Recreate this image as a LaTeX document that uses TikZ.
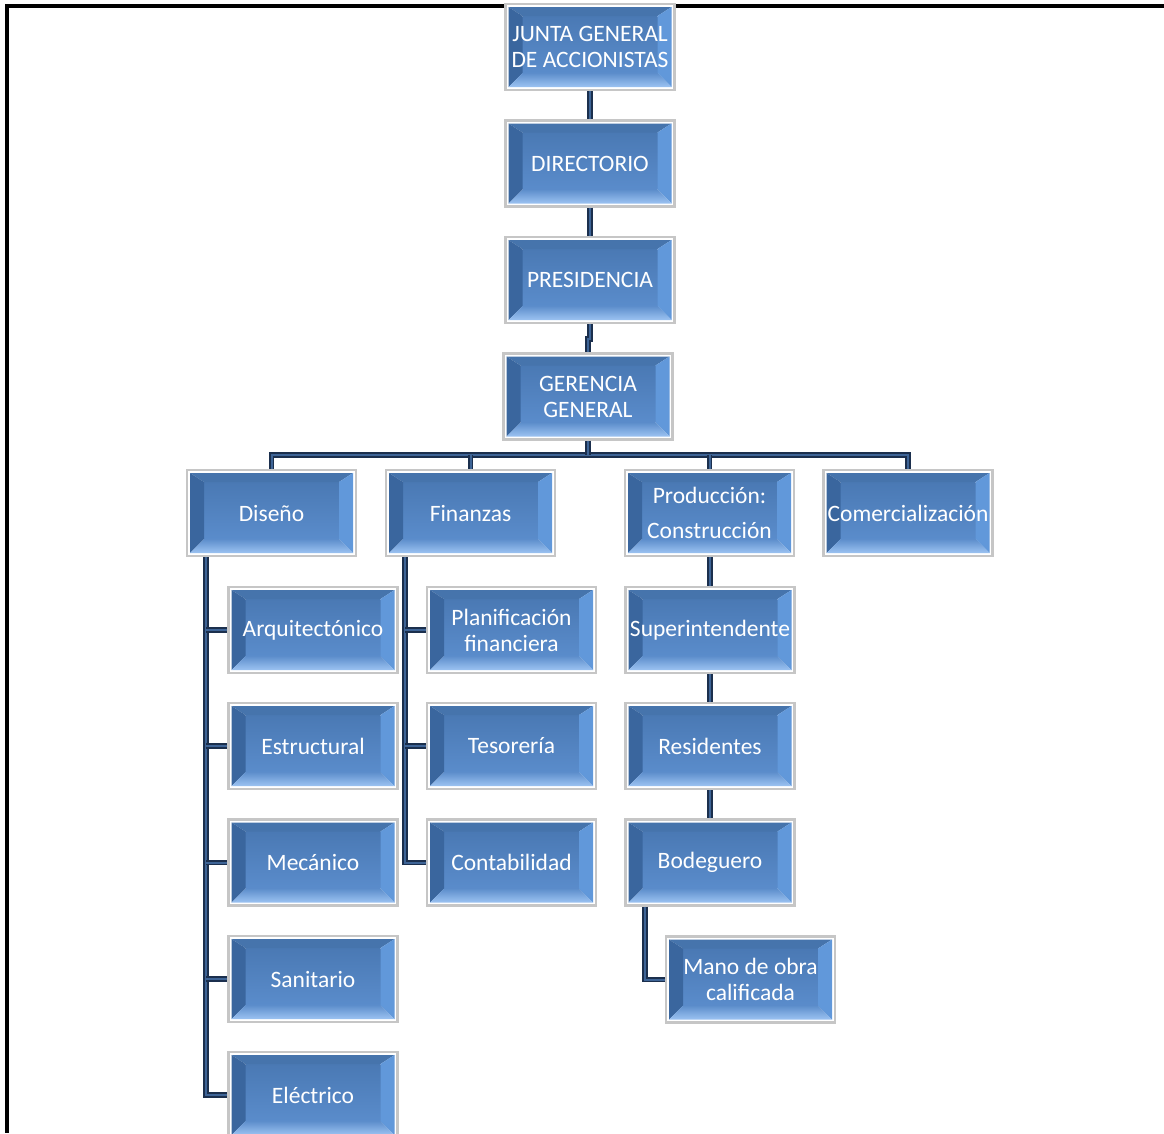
\documentclass[tikz,border=0pt]{standalone}
\usepackage{fontspec}
\setmainfont{Carlito}
\definecolor{bface1}{HTML}{4A79B4}
\definecolor{bface2}{HTML}{5A8CCB}
\definecolor{btop}{HTML}{4674AC}
\definecolor{bleft}{HTML}{3A669E}
\definecolor{bright}{HTML}{6198DA}
\definecolor{bbot1}{HTML}{5C8DCB}
\definecolor{bbot2}{HTML}{9CC3F2}
\definecolor{bframe}{HTML}{C6C6C6}
\definecolor{connout}{HTML}{1B2F4D}
\definecolor{connin}{HTML}{3E6496}
\tikzset{
  bev/.style={draw=bframe, line width=2.2pt, minimum width=169pt, minimum height=86pt,
    inner sep=0pt, text=white, align=center,
    font=\fontsize{23.5}{26}\selectfont,
    path picture={
      \fill[white] (path picture bounding box.south west) rectangle (path picture bounding box.north east);
      \coordinate (ppA) at ([shift={(3pt,-3pt)}]path picture bounding box.north west);
      \coordinate (ppB) at ([shift={(-3pt,-3pt)}]path picture bounding box.north east);
      \coordinate (ppC) at ([shift={(-3pt,3pt)}]path picture bounding box.south east);
      \coordinate (ppD) at ([shift={(3pt,3pt)}]path picture bounding box.south west);
      \coordinate (ppa) at ([shift={(14pt,-9pt)}]ppA);
      \coordinate (ppb) at ([shift={(-14pt,-9pt)}]ppB);
      \coordinate (ppc) at ([shift={(-14pt,14pt)}]ppC);
      \coordinate (ppd) at ([shift={(14pt,14pt)}]ppD);
      \shade[top color=bface1, bottom color=bface2] (ppa) rectangle (ppc);
      \fill[btop] (ppA) -- (ppB) -- (ppb) -- (ppa) -- cycle;
      \fill[bleft] (ppA) -- (ppa) -- (ppd) -- (ppD) -- cycle;
      \fill[bright] (ppB) -- (ppb) -- (ppc) -- (ppC) -- cycle;
      \shade[top color=bbot1, bottom color=bbot2] (ppD) -- (ppd) -- (ppc) -- (ppC) -- cycle;
      \draw[gray!60!black, line width=1.5pt] (path picture bounding box.north east) -- (path picture bounding box.south east);
    }},
  conn/.style={draw=connout, line width=1.8pt, double=connin, double distance=2pt},
  framel/.style={draw=black, line width=3.2pt}
}
\begin{document}
\begin{tikzpicture}[x=1pt,y=-1pt]
\useasboundingbox (0,0) rectangle (1164,1133);
% frame
\coordinate (ftr) at (1164,6);
\coordinate (ftl) at (7,6);
\coordinate (fbl) at (7,1133);
\draw[framel] (ftr) -- (ftl) -- (fbl);
\coordinate (bus) at (588,455);
\coordinate (dspine) at (206,556);
\coordinate (fspine) at (405,556);
\coordinate (bspine) at (645,905);
% nodes
\node[bev] (junta) at (590,47) {JUNTA GENERAL\\DE ACCIONISTAS};
\node[bev] (dir) at (590,163.5) {DIRECTORIO};
\node[bev] (pre) at (590,280) {PRESIDENCIA};
\node[bev] (ger) at (588,396.5) {GERENCIA\\GENERAL};
\node[bev] (dis) at (271.5,513) {Diseño};
\node[bev] (fin) at (470.5,513) {Finanzas};
\node[bev] (pro) at (709.5,513) {Producción:\\[9pt]Construcción};
\node[bev] (com) at (908,513) {Comercialización};
\node[bev] (arq) at (313,630) {Arquitectónico};
\node[bev] (est) at (313,746) {Estructural};
\node[bev] (mec) at (313,862.5) {Mecánico};
\node[bev] (san) at (313,979) {Sanitario};
\node[bev] (ele) at (313,1095) {Eléctrico};
\node[bev] (pla) at (511.5,630) {Planificación\\financiera};
\node[bev] (tes) at (511.5,746) {Tesorería};
\node[bev] (con) at (511.5,862.5) {Contabilidad};
\node[bev] (sup) at (710,630) {Superintendente};
\node[bev] (res) at (710,746) {Residentes};
\node[bev] (bod) at (710,862.5) {Bodeguero};
\node[bev] (man) at (750.5,979.5) {Mano de obra\\calificada};
% connectors
\draw[conn] (junta.south) -- (dir.north);
\draw[conn] (dir.south) -- (pre.north);
\draw[conn] (pre.south) -- ++(0,15) -| (ger.north);
\draw[conn] (dis.north) -- (dis.north |- bus) -- (com.north |- bus) -- (com.north);
\draw[conn] (ger.south) -- (ger.south |- bus);
\draw[conn] (fin.north) -- (fin.north |- bus);
\draw[conn] (pro.north) -- (pro.north |- bus);
\draw[conn] (dis.south -| dspine) -- (ele.west -| dspine) -- (ele.west);
\draw[conn] (arq.west -| dspine) -- (arq.west);
\draw[conn] (est.west -| dspine) -- (est.west);
\draw[conn] (mec.west -| dspine) -- (mec.west);
\draw[conn] (san.west -| dspine) -- (san.west);
\draw[conn] (fin.south -| fspine) -- (con.west -| fspine) -- (con.west);
\draw[conn] (pla.west -| fspine) -- (pla.west);
\draw[conn] (tes.west -| fspine) -- (tes.west);
\draw[conn] (pro.south -| sup.north) -- (sup.north);
\draw[conn] (sup.south) -- (res.north);
\draw[conn] (res.south) -- (bod.north);
\draw[conn] (bod.south -| bspine) -- (man.west -| bspine) -- (man.west);
\end{tikzpicture}
\end{document}
